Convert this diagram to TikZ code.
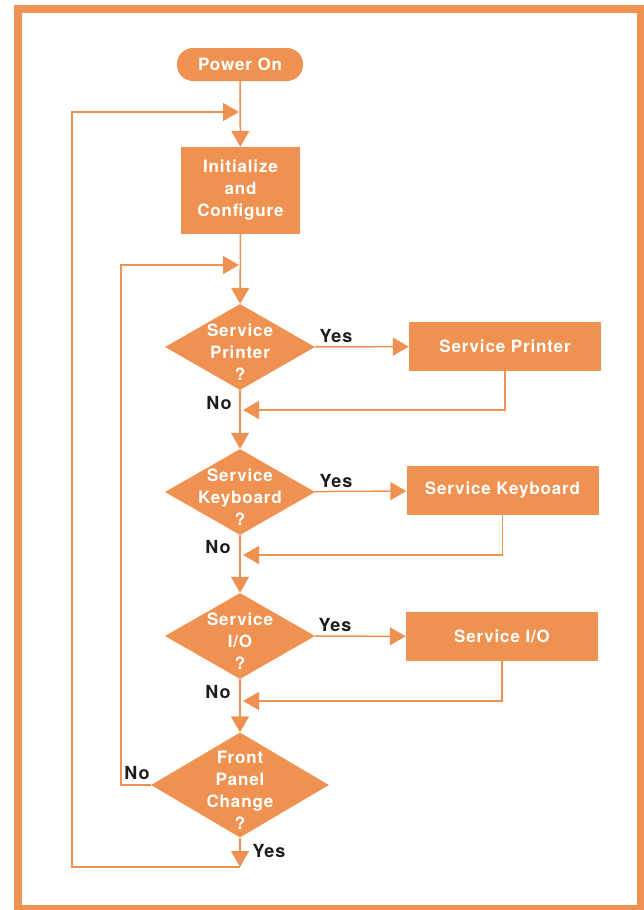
\documentclass[tikz,border=0pt]{standalone}
\usepackage{fontspec}
\setmainfont{TeX Gyre Heros}[LetterSpace=5]
\usetikzlibrary{arrows.meta,shapes.geometric}
\definecolor{hporange}{RGB}{239,145,80}
\definecolor{hpink}{RGB}{28,28,28}
\tikzset{
	boxfont/.style={font=\bfseries\fontsize{17}{22}\selectfont},
	link/.style={draw=hporange,line width=1.5pt},
	flow/.style={link,-{Triangle[length=16pt,width=18pt]}},
	procbox/.style={fill=hporange,text=white,boxfont,align=center,inner sep=0},
	startbox/.style={procbox,rounded corners=16pt},
	decision/.style={diamond,fill=hporange,inner sep=0},
	dtext/.style={text=white,boxfont,align=center,inner sep=0},
	answer/.style={text=hpink,font=\bfseries\fontsize{18}{22}\selectfont,inner sep=0}
}
\begin{document}
\begin{tikzpicture}[x=1pt,y=-1pt]
\useasboundingbox (0,0) rectangle (644,910);
\draw[hporange,line width=8pt] (18,9) rectangle (641,909);
% main column
\node[startbox,minimum width=126pt,minimum height=33pt] (pon) at (240,64.5) {Power On};
\node[procbox,minimum width=119pt,minimum height=87pt] (init) at (240.5,190.5) {Initialize\\and\\Configure};
\node[decision,minimum width=150pt,minimum height=86pt,label={[dtext,yshift=-5pt]center:{Service\\Printer\\?}}] (dprn) at (240,347) {};
\node[decision,minimum width=150pt,minimum height=86pt,label={[dtext,yshift=-5pt]center:{Service\\Keyboard\\?}}] (dkbd) at (240,492) {};
\node[decision,minimum width=150pt,minimum height=86pt,label={[dtext,yshift=-5pt]center:{Service\\I/O\\?}}] (dio) at (240,636) {};
\node[decision,minimum width=178pt,minimum height=105pt,label={[dtext,yshift=-5pt]center:{Front\\Panel\\Change\\?}}] (dfp) at (240,785) {};
% service boxes
\node[procbox,minimum width=192pt,minimum height=49pt] (sprn) at (505,346.5) {Service Printer};
\node[procbox,minimum width=192pt,minimum height=49pt] (skbd) at (502.5,490.5) {Service Keyboard};
\node[procbox,minimum width=192pt,minimum height=49pt] (sio) at (502,636.5) {Service I/O};
% labels
\node[answer] (yprn) at (336,336) {Yes};
\node[answer] (ykbd) at (336,481) {Yes};
\node[answer] (yio) at (335,625) {Yes};
\node[answer] (nprn) at (219,403) {No};
\node[answer] (nkbd) at (218,547) {No};
\node[answer] (nio) at (218,692) {No};
\node[answer] (nfp) at (137,773) {No};
\node[answer] (yfp) at (269,851) {Yes};
% joins
\coordinate (jtop) at (239,112);
\coordinate (jmid) at (239,265);
\coordinate (rprn) at (243,410);
\coordinate (rkbd) at (243,555);
\coordinate (rio) at (243,701);
\coordinate (jbot) at (240,867);
% connectors
\draw[flow] (pon) -- (init);
\draw[flow] (init) -- (dprn);
\draw[flow] (dprn) -- (dkbd);
\draw[flow] (dkbd) -- (dio);
\draw[flow] (dio) -- (dfp);
\draw[flow] (dfp) -- (jbot);
\draw[flow] (dprn) -- (sprn);
\draw[flow] (dkbd) -- (skbd);
\draw[flow] (dio) -- (sio);
\draw[flow] (sprn) |- (rprn);
\draw[flow] (skbd) |- (rkbd);
\draw[flow] (sio) |- (rio);
\draw[flow] (dfp.west) -- ++(-30,0) |- (jmid);
\draw[flow] (jbot) -- ++(-168,0) |- (jtop);
\end{tikzpicture}
\end{document}
